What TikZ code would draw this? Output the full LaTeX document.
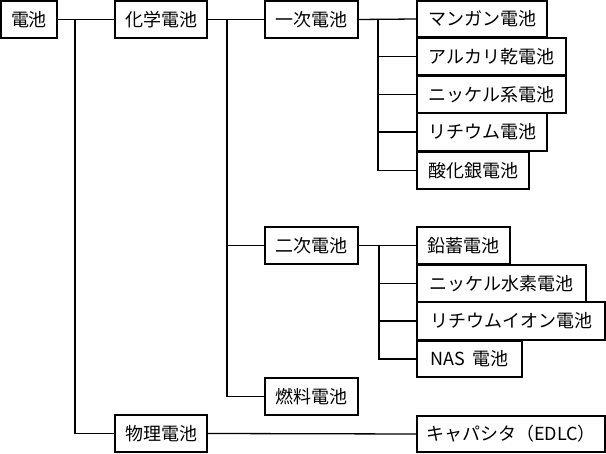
\documentclass[tikz,border=0pt]{standalone}
\usepackage{fontspec}
\setmainfont{Noto Sans CJK JP}
\begin{document}
\begin{tikzpicture}[x=1pt,y=-1pt,
  bx/.style={draw=black,line width=1.3pt,inner sep=0pt,font=\fontsize{18}{18}\selectfont},
  ln/.style={draw=black,line width=1.3pt}]
\useasboundingbox (0,0) rectangle (606,454);
\newcommand\bbox[6]{\node[bx,minimum width=#4-#2,minimum height=#5-#3] (#1) at ({(#2+#4)/2},{(#3+#5)/2}) {#6};}
\bbox{root}{1}{1}{57}{38}{電池}
\bbox{chem}{115}{1}{207}{38}{化学電池}
\bbox{phys}{115}{415}{207}{452}{物理電池}
\bbox{prim}{265}{1}{358}{38}{一次電池}
\bbox{sec}{265}{227}{358}{264}{二次電池}
\bbox{fuel}{265}{378}{358}{415}{燃料電池}
\bbox{mang}{417}{1}{547}{37}{マンガン電池}
\bbox{alk}{417}{38}{566}{75}{アルカリ乾電池}
\bbox{nick}{417}{76}{566}{113}{ニッケル系電池}
\bbox{lith}{417}{113}{547}{151}{リチウム電池}
\bbox{silv}{417}{152}{529}{189}{酸化銀電池}
\bbox{lead}{417}{227}{510}{264}{鉛蓄電池}
\bbox{nimh}{417}{265}{586}{302}{ニッケル水素電池}
\bbox{lion}{417}{302}{605}{340}{リチウムイオン電池}
\bbox{nas}{417}{341}{522}{377}{NAS\ \ 電池}
\bbox{cap}{417}{416}{605}{452}{キャパシタ（EDLC）}
\coordinate (t0) at (75,19);
\coordinate (c0) at (227,19);
\coordinate (p0) at (378,19);
\coordinate (s0) at (379,245);
\draw[ln] (root.east) -- (chem.west);
\draw[ln] (t0) |- (phys.west);
\draw[ln] (chem.east) -- (prim.west);
\draw[ln] (c0) |- (sec.west);
\draw[ln] (c0) |- (fuel.west);
\draw[ln] (prim.east) -- (mang.west);
\draw[ln] (p0) |- (alk.west);
\draw[ln] (p0) |- (nick.west);
\draw[ln] (p0) |- (lith.west);
\draw[ln] (p0) |- (silv.west);
\draw[ln] (sec.east) -- (lead.west);
\draw[ln] (s0) |- (nimh.west);
\draw[ln] (s0) |- (lion.west);
\draw[ln] (s0) |- (nas.west);
\draw[ln] (phys.east) -- (cap.west);
\end{tikzpicture}
\end{document}
